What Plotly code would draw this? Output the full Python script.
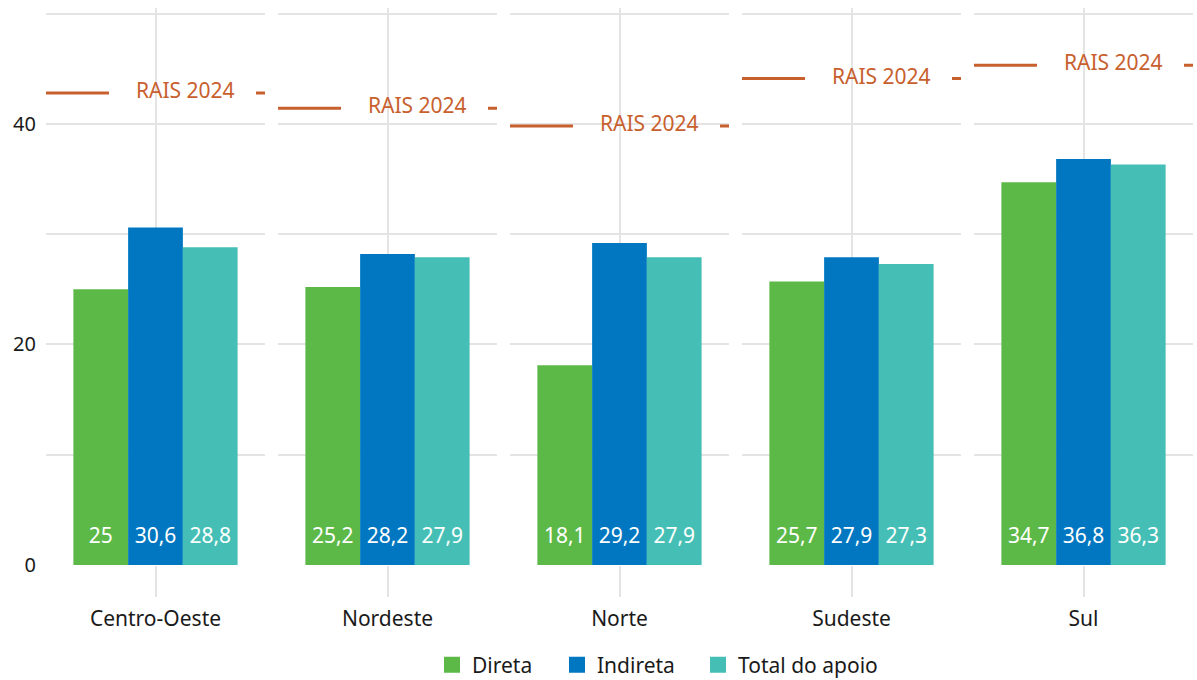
import plotly.graph_objects as go
from plotly.subplots import make_subplots

# Regional data
regions = ["Centro-Oeste", "Nordeste", "Norte", "Sudeste", "Sul"]
direta = [25.0, 25.2, 18.1, 25.7, 34.7]
indireta = [30.6, 28.2, 29.2, 27.9, 36.8]
total_apoio = [28.8, 27.9, 27.9, 27.3, 36.3]
rais_2024 = [42.8, 41.4, 39.8, 44.1, 45.3]

series_names = ["Direta", "Indireta", "Total do apoio"]
series_values = [direta, indireta, total_apoio]
series_colors = ["#5DB947", "#0077C0", "#45BFB5"]
rais_color = "#C8602E"
grid_color = "#E4E4E4"
text_color = "#1a1a1a"
font_family = "Noto Sans"

bar_width = 0.25
label_y = 2.45

fig = make_subplots(rows=1, cols=len(regions), shared_yaxes=True,
                    horizontal_spacing=13 / 1147)

for c, region in enumerate(regions, start=1):
    for s, (name, values, color) in enumerate(zip(series_names, series_values, series_colors)):
        xpos = (s - 1) * bar_width
        val = values[c - 1]
        fig.add_trace(go.Bar(
            x=[xpos], y=[val], width=bar_width, marker=dict(color=color, line=dict(width=0)),
            name=name, showlegend=False, hoverinfo="skip",
        ), row=1, col=c)
        fig.add_trace(go.Scatter(
            x=[xpos], y=[label_y], mode="text",
            text=[f"{val:g}".replace(".", ",")],
            textfont=dict(color="white", size=21, family=font_family),
            showlegend=False, hoverinfo="skip",
        ), row=1, col=c)
    # RAIS 2024 reference line
    fig.add_trace(go.Scatter(
        x=[-0.5, 0.5], y=[rais_2024[c - 1]] * 2, mode="lines",
        line=dict(color=rais_color, width=3, dash="63px,147px"),
        showlegend=False, hoverinfo="skip",
    ), row=1, col=c)
    fig.add_annotation(
        x=0.135, y=rais_2024[c - 1], text="RAIS 2024", showarrow=False, yshift=3,
        font=dict(color=rais_color, size=21, family=font_family),
        xref=f"x{c if c > 1 else ''}", yref="y",
    )
    fig.update_xaxes(
        range=[-0.5, 0.5], tickvals=[0], ticktext=[region],
        showgrid=True, gridcolor=grid_color, gridwidth=2,
        ticks="outside", ticklen=31, tickwidth=2, tickcolor=grid_color,
        ticklabelstandoff=4,
        zeroline=False, showline=False, fixedrange=True,
        tickfont=dict(size=21, color=text_color, family=font_family),
        row=1, col=c,
    )

# One legend per series so each entry sits at its own position
legend_slots = ["legend", "legend2", "legend3"]
legend_left = [432, 557, 698]
for name, color, slot in zip(series_names, series_colors, legend_slots):
    fig.add_trace(go.Scatter(
        x=[None], y=[None], mode="markers", name=name, legend=slot,
        marker=dict(symbol="square", size=16, color=color),
    ), row=1, col=1)

fig.update_yaxes(
    range=[0, 50.5], tickvals=[0, 10, 20, 30, 40, 50], ticktext=["0", "", "20", "", "40", ""],
    showgrid=True, gridcolor=grid_color, gridwidth=2, zeroline=False, showline=False,
    ticklabelstandoff=9,
    tickfont=dict(size=20, color=text_color, family=font_family),
)

legend_style = dict(orientation="h", xref="container", yref="container",
                    xanchor="left", y=(680 - 665) / 680, yanchor="middle",
                    font=dict(size=21, family=font_family, color=text_color),
                    bgcolor="rgba(0,0,0,0)")
fig.update_layout(
    width=1197, height=680,
    margin=dict(l=46, r=4, t=7.5, b=115),
    plot_bgcolor="white", paper_bgcolor="white",
    barmode="overlay",
    font=dict(family=font_family, size=20, color=text_color),
    legend=dict(x=legend_left[0] / 1197, **legend_style),
    legend2=dict(x=legend_left[1] / 1197, **legend_style),
    legend3=dict(x=legend_left[2] / 1197, **legend_style),
)

fig.write_html("out.html")
